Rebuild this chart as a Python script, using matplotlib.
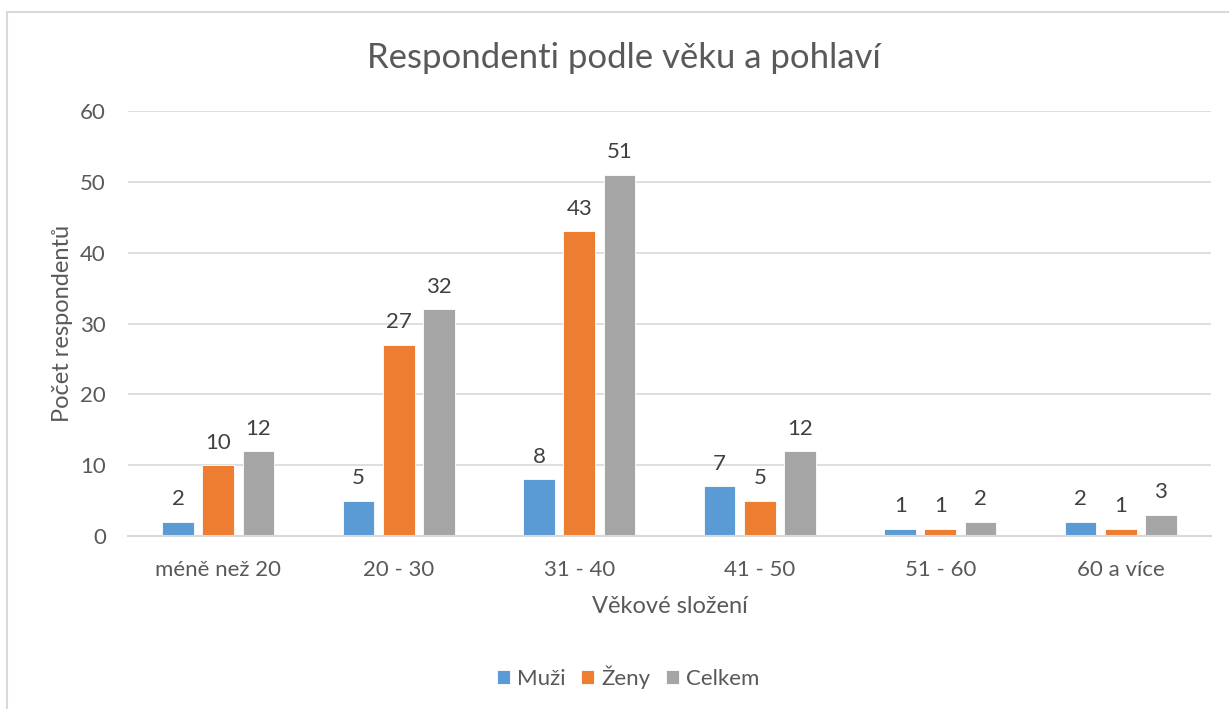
import numpy as np
import matplotlib
matplotlib.use("Agg")
import matplotlib.pyplot as plt
from matplotlib.patches import Rectangle

# Data
categories = ["méně než 20", "20 - 30", "31 - 40", "41 - 50", "51 - 60", "60 a více"]
muzi = [2, 5, 8, 7, 1, 2]
zeny = [10, 27, 43, 5, 1, 1]
celkem = [12, 32, 51, 12, 2, 3]
series_names = ["Muži", "Ženy", "Celkem"]
colors = ["#5B9BD5", "#ED7D31", "#A5A5A5"]
y_ticks = [0, 10, 20, 30, 40, 50, 60]

TXT = "#595959"
FS = 16
plt.rcParams["font.family"] = ["Lato", "DejaVu Sans"]

fig = plt.figure(figsize=(12.29, 7.09), dpi=100)
ax = fig.add_axes([128 / 1229, 1 - 536 / 709, (1211 - 128) / 1229, (536 - 111) / 709])

# light frame around the chart area (cropped at right/bottom like the reference)
fig.patches.append(Rectangle((7 / 1229, -0.2), 1.2, 1.2 - 12 / 709,
                             transform=fig.transFigure, fill=False,
                             edgecolor="#D9D9D9", linewidth=1.5))

x = np.arange(len(categories))
offset = 0.222
width = 0.175
for i, (vals, name, c) in enumerate(zip([muzi, zeny, celkem], series_names, colors)):
    bars = ax.bar(x + (i - 1) * offset, vals, width, color=c, label=name,
                  edgecolor="white", linewidth=0.6, zorder=3)
    for b, v in zip(bars, vals):
        ax.annotate(str(v), (b.get_x() + b.get_width() / 2, v),
                    xytext=(0, 9), textcoords="offset points",
                    ha="center", va="bottom", fontsize=FS, color="#404040")

ax.set_xlim(-0.5, len(categories) - 0.5)
ax.set_ylim(0, 60)
ax.set_yticks(y_ticks)
ax.set_xticks(x)
ax.set_xticklabels(categories)
ax.grid(axis="y", color="#D9D9D9", linewidth=1.2, zorder=0)
for s in ["top", "right", "left"]:
    ax.spines[s].set_visible(False)
ax.spines["bottom"].set_color("#D9D9D9")
ax.spines["bottom"].set_linewidth(1.5)
ax.spines["bottom"].set_zorder(4)
ax.tick_params(axis="both", length=0, labelsize=FS, colors=TXT)
ax.tick_params(axis="x", pad=17)
ax.tick_params(axis="y", pad=16)

ax.set_ylabel("Počet respondentů", fontsize=17, color=TXT, labelpad=5)
ax.set_xlabel("Věkové složení", fontsize=17, color=TXT, labelpad=12)
fig.text(0.508, 1 - 58 / 709, "Respondenti podle věku a pohlaví",
         ha="center", va="center", fontsize=25, color=TXT)

fig.legend(loc="center", bbox_to_anchor=(0.511, 1 - 677 / 709), ncol=3,
           frameon=False, fontsize=FS, handlelength=0.6, handleheight=0.6,
           handletextpad=0.3, columnspacing=0.7, labelcolor=TXT)

fig.savefig("out.png", dpi=100)
